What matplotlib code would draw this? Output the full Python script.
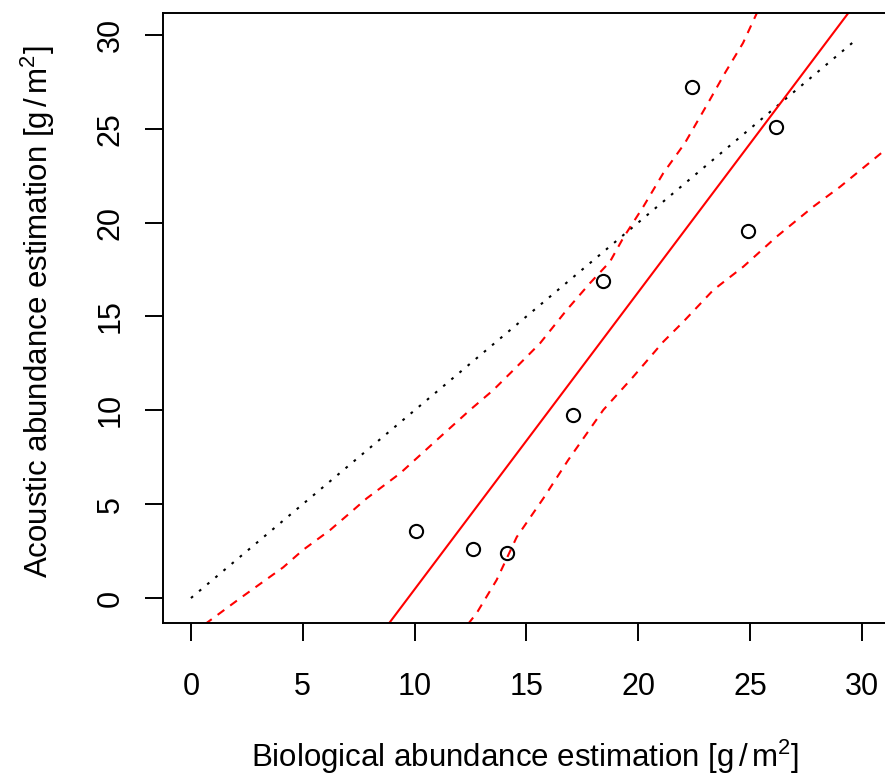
import numpy as np
import matplotlib
matplotlib.use('Agg')
import matplotlib.pyplot as plt

plt.rcParams['font.family'] = ['Liberation Sans', 'DejaVu Sans']
plt.rcParams['mathtext.fontset'] = 'custom'
plt.rcParams['mathtext.rm'] = 'Liberation Sans'
plt.rcParams['mathtext.it'] = 'Liberation Sans'

# observed points (biological vs acoustic)
bio = [10.05, 12.63, 14.15, 17.08, 18.43, 22.39, 24.91, 26.15]
acou = [3.57, 2.61, 2.41, 9.75, 16.89, 27.21, 19.55, 25.09]

# 1:1 reference
ref_x = [0, 29.7]
ref_y = [0, 29.7]

# fitted line
slope = 1.583
intercept = -15.37

# upper / lower bands
up_x = [0.63, 2.19, 4.13, 5.01, 6.22, 7.11, 7.86, 9.35, 10.91, 12.48, 13.52, 14.57,
        15.61, 16.80, 17.84, 18.74, 19.33, 20.23, 21.12, 22.09, 23.20, 23.88, 24.69, 25.31]
up_y = [-1.39, -0.02, 1.64, 2.56, 3.62, 4.53, 5.31, 6.64, 8.33, 10.02, 11.08, 12.32,
        13.57, 15.34, 16.77, 17.92, 19.18, 20.85, 22.63, 24.24, 26.53, 27.97, 29.57, 31.17]
lo_x = [12.39, 12.78, 13.67, 14.57, 15.76, 16.87, 18.44, 19.78, 21.12, 22.02, 23.36,
        24.70, 26.19, 27.83, 29.03, 31.04]
lo_y = [-1.39, -0.80, 0.96, 3.25, 5.31, 7.35, 10.02, 11.79, 13.65, 14.72, 16.41,
        17.65, 19.25, 20.85, 21.91, 23.87]

W, H = 885, 778
fig = plt.figure(figsize=(W / 100, H / 100), dpi=100)
xlo, xhi = -1.25, 31.3
ylo, yhi = -1.33, 31.17
ax = fig.add_axes([163 / W, 155 / H, (xhi - xlo) * 22.36 / W, 610 / H])

ax.plot(ref_x, ref_y, color='black', lw=1.5, dashes=(1.3, 3.8))
ax.axline((0, intercept), slope=slope, color='red', lw=1.5)
ax.plot(up_x, up_y, color='red', lw=1.5, dashes=(4, 3.5))
ax.plot(lo_x, lo_y, color='red', lw=1.5, dashes=(4, 3.5))
ax.plot(bio, acou, 'o', mfc='none', mec='black', ms=9.5, mew=1.5)

ax.set_xlim(xlo, xhi)
ax.set_ylim(ylo, yhi)
ax.set_xticks(range(0, 31, 5))
ax.set_yticks(range(0, 31, 5))
for s in ax.spines.values():
    s.set_linewidth(1.4)
ax.tick_params(length=13, width=1.4, labelsize=22, pad=22)
plt.setp(ax.get_yticklabels(), rotation=90, va='center')
ax.yaxis.set_tick_params(pad=14)

fig.text(525 / W, 1 - 757 / H, r'Biological abundance estimation $[\mathrm{g}\,/\,\mathrm{m}^2]$',
         fontsize=22.5, ha='center', va='center')
fig.text(38 / W, 1 - 312 / H, r'Acoustic abundance estimation $[\mathrm{g}\,/\,\mathrm{m}^2]$',
         fontsize=22.5, ha='center', va='center', rotation=90)

fig.savefig('out.png', dpi=100)
